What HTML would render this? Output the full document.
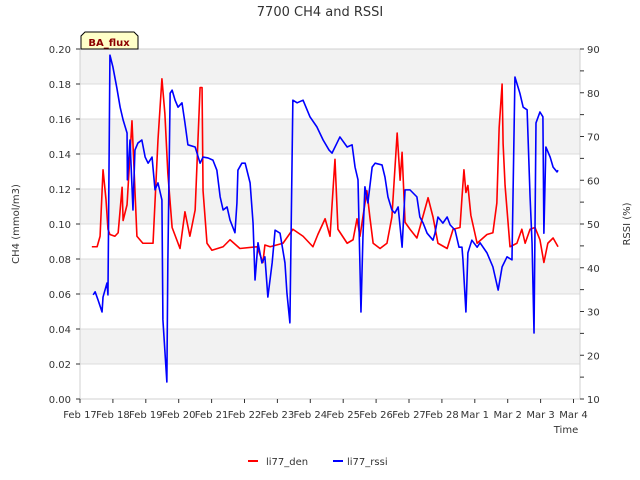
<!DOCTYPE html>
<html><head><meta charset="utf-8"><style>
body{margin:0;background:#fff;}
svg{display:block;font-family:"DejaVu Sans","Liberation Sans",sans-serif;}
</style></head><body>
<svg id="chart" width="640" height="480"></svg>
<script>
const xTickLabels=["Feb 17","Feb 18","Feb 19","Feb 20","Feb 21","Feb 22","Feb 23","Feb 24","Feb 25","Feb 26","Feb 27","Feb 28","Mar 1","Mar 2","Mar 3","Mar 4"];
const yLeftTicks=[0,0.02,0.04,0.06,0.08,0.10,0.12,0.14,0.16,0.18,0.20];
const yRightTicks=[10,20,30,40,50,60,70,80,90];
const denDays=[0.36,0.52,0.61,0.70,0.79,0.85,0.91,1.06,1.16,1.28,1.31,1.43,1.58,1.73,1.91,2.22,2.37,2.49,2.58,2.67,2.80,3.04,3.19,3.34,3.50,3.65,3.71,3.74,3.86,4.01,4.35,4.56,4.86,5.38,5.56,5.62,5.78,6.17,6.47,6.78,7.08,7.23,7.45,7.54,7.60,7.75,7.84,8.12,8.30,8.42,8.51,8.72,8.81,8.91,9.12,9.33,9.48,9.64,9.73,9.79,9.88,10.03,10.24,10.33,10.58,10.73,10.88,11.16,11.34,11.55,11.61,11.67,11.73,11.79,11.88,12.07,12.37,12.55,12.67,12.74,12.83,12.86,12.92,13.07,13.28,13.43,13.53,13.68,13.83,13.98,14.10,14.22,14.38,14.53];
const denValues=[0.087,0.087,0.093,0.131,0.114,0.097,0.094,0.093,0.095,0.121,0.102,0.111,0.159,0.093,0.089,0.089,0.148,0.183,0.163,0.129,0.098,0.086,0.107,0.093,0.108,0.178,0.178,0.119,0.089,0.085,0.087,0.091,0.086,0.087,0.078,0.088,0.087,0.089,0.097,0.093,0.087,0.094,0.103,0.097,0.093,0.137,0.097,0.089,0.091,0.103,0.093,0.119,0.104,0.089,0.086,0.089,0.104,0.152,0.125,0.141,0.101,0.097,0.092,0.098,0.115,0.104,0.089,0.086,0.097,0.098,0.115,0.131,0.118,0.122,0.105,0.089,0.094,0.095,0.112,0.155,0.180,0.146,0.122,0.087,0.089,0.097,0.089,0.097,0.098,0.091,0.078,0.089,0.092,0.087];
const rssiDays=[0.40,0.46,0.55,0.67,0.70,0.82,0.85,0.91,1.00,1.12,1.22,1.31,1.43,1.44,1.52,1.61,1.67,1.76,1.88,1.98,2.07,2.19,2.28,2.37,2.49,2.52,2.64,2.67,2.74,2.80,2.89,2.98,3.10,3.19,3.28,3.50,3.65,3.74,3.89,4.04,4.16,4.26,4.35,4.47,4.56,4.71,4.77,4.80,4.92,5.02,5.17,5.26,5.32,5.41,5.53,5.62,5.71,5.84,5.93,6.08,6.23,6.29,6.38,6.47,6.60,6.78,6.99,7.20,7.39,7.57,7.66,7.81,7.90,8.12,8.27,8.36,8.45,8.54,8.60,8.66,8.75,8.88,8.97,9.18,9.27,9.36,9.48,9.57,9.67,9.79,9.88,10.03,10.24,10.33,10.43,10.55,10.73,10.79,10.88,11.03,11.16,11.25,11.40,11.52,11.61,11.64,11.73,11.79,11.91,12.07,12.16,12.37,12.55,12.71,12.83,12.98,13.13,13.22,13.37,13.47,13.59,13.68,13.74,13.80,13.86,13.98,14.07,14.10,14.16,14.29,14.38,14.50,14.53];
const rssiValues=[33.8,34.5,32.6,29.9,33.3,36.5,33.8,88.6,85.9,81.1,76.7,73.8,70.8,60.1,69.2,53.2,66.9,68.5,69.2,65.3,63.9,65.3,57.8,59.4,55.5,28.1,13.9,41.1,79.9,80.6,78.3,76.7,77.7,73.1,68.1,67.6,63.9,65.3,65.1,64.6,62.3,56.2,53.2,53.9,50.9,48.0,54.8,62.3,63.9,63.9,59.4,50.2,37.2,45.7,41.1,42.5,33.3,41.1,48.6,47.9,41.1,34.2,27.4,78.3,77.7,78.3,74.5,72.2,69.2,66.9,66.2,68.5,69.9,67.6,68.1,63.0,60.1,29.9,47.0,58.5,54.8,63.0,63.9,63.5,60.7,56.2,53.2,52.5,53.9,44.7,57.8,57.8,56.2,51.6,50.2,47.9,46.3,47.9,51.6,50.2,51.6,49.8,48.6,44.7,44.7,41.8,29.9,43.4,46.3,44.7,45.7,43.4,40.2,34.9,40.2,42.5,41.8,83.6,79.9,76.7,76.1,56.2,45.7,25.1,73.1,75.6,74.5,47.9,67.6,65.3,63.0,61.9,62.3];

const NS="http://www.w3.org/2000/svg";
const svg=document.getElementById('chart');
const L=80,R=580,T=49,B=399;
const xS=d=>L+d*32.9;
const yL=v=>B-v/0.2*(B-T);
const yR=v=>B-(v-10)/80*(B-T);
function el(tag,attrs,parent){const e=document.createElementNS(NS,tag);for(const k in attrs)e.setAttribute(k,attrs[k]);(parent||svg).appendChild(e);return e;}
function txt(s,attrs,parent){const e=el('text',attrs,parent);e.textContent=s;return e;}

const bg=el('g',{});


el('rect',{x:L,y:T,width:R-L,height:B-T,fill:'#fff'},bg);
for(let i=0;i<10;i+=2){
  const b=el('rect',{x:L,y:yL(yLeftTicks[i+2]),width:R-L,height:yL(yLeftTicks[i+1])-yL(yLeftTicks[i+2]),fill:'#f2f2f2'},bg);
  
  
}
yLeftTicks.forEach(v=>{el('line',{x1:L,x2:R,y1:yL(v),y2:yL(v),stroke:'#dcdcdc','stroke-width':1},bg);});
el('rect',{x:L,y:T,width:R-L,height:B-T,fill:'none',stroke:'#d0d0d0'},bg);

const t=txt('7700 CH4 and RSSI',{x:320,y:16,'text-anchor':'middle','font-size':13,fill:'#333'});



const yax=el('g',{});


yLeftTicks.forEach(v=>{
  el('line',{x1:L-4,x2:L,y1:yL(v),y2:yL(v),stroke:'#333'},yax);
  const l=txt(v.toFixed(2),{x:71,y:yL(v)+4,'text-anchor':'end','font-size':10,fill:'#333'},yax);
  
  
});
const yt=txt('CH4 (mmol/m3)',{x:19,y:224,'text-anchor':'middle','font-size':10,fill:'#333',transform:'rotate(-90 19 224)'});



const rax=el('g',{});


for(let v=10;v<=90;v+=5){el('line',{x1:R,x2:R+4,y1:yR(v),y2:yR(v),stroke:'#333'},rax);}
yRightTicks.forEach(v=>{
  const l=txt(String(v),{x:587,y:yR(v)+4,'font-size':10,fill:'#333'},rax);
  
  
});
const rt=txt('RSSI (%)',{x:630,y:224,'text-anchor':'middle','font-size':10,fill:'#333',transform:'rotate(-90 630 224)'});



const xax=el('g',{});


xTickLabels.forEach((s,i)=>{
  el('line',{x1:xS(i),x2:xS(i),y1:B,y2:B+4,stroke:'#333'},xax);
  const l=txt(s,{x:xS(i),y:418,'text-anchor':'middle','font-size':10,fill:'#333'},xax);
  
  
});
const xt=txt('Time',{x:566,y:433,'text-anchor':'middle','font-size':10,fill:'#333'});



const den=el('polyline',{points:denDays.map((d,i)=>xS(d)+','+yL(denValues[i])).join(' '),fill:'none',stroke:'#ff0000','stroke-width':1.6,'stroke-linejoin':'round'});


const rs=el('polyline',{points:rssiDays.map((d,i)=>xS(d)+','+yR(rssiValues[i])).join(' '),fill:'none',stroke:'#0000ff','stroke-width':1.6,'stroke-linejoin':'round'});



const badge=el('g',{});


el('path',{d:'M81,49 L81,36 L85,32 L134,32 L138,36 L138,49 Z',fill:'#ffffc8',stroke:'#000','stroke-width':1},badge);
txt('BA_flux',{x:109,y:46,'text-anchor':'middle','font-size':10,'font-weight':'bold',fill:'#8b0000'},badge);

const lg=el('g',{});


const e1=el('g',{},lg);


el('line',{x1:248,x2:258,y1:461,y2:461,stroke:'#ff0000','stroke-width':2},e1);
txt('li77_den',{x:266,y:465,'font-size':10,fill:'#333'},e1);
const e2=el('g',{},lg);


el('line',{x1:333,x2:343,y1:461,y2:461,stroke:'#0000ff','stroke-width':2},e2);
txt('li77_rssi',{x:347,y:465,'font-size':10,fill:'#333'},e2);
</script>
</body></html>
